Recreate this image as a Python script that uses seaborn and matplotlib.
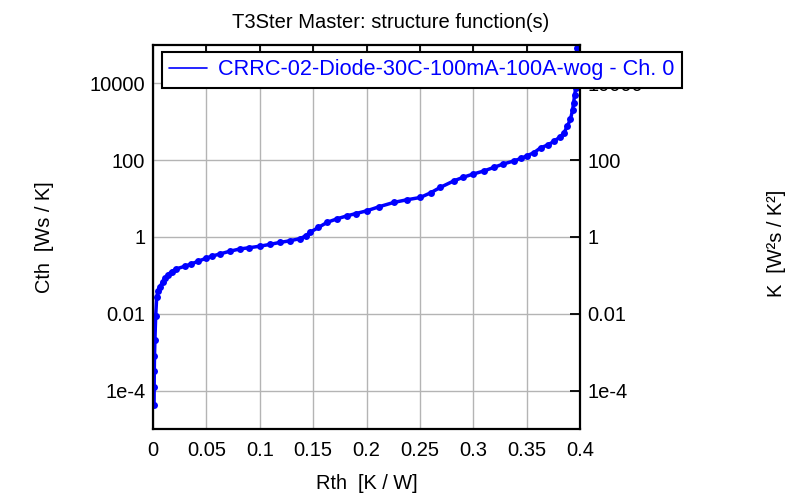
import matplotlib
matplotlib.use("Agg")
import matplotlib.pyplot as plt
import seaborn as sns
import pandas as pd

# Data (Rth in K/W, log10 of Cth in Ws/K)
rth = [0.0010, 0.0011, 0.0012, 0.0014, 0.0018, 0.0025, 0.0035, 0.0050, 0.0066,
       0.0090, 0.0113, 0.0140, 0.0175, 0.0220, 0.0300, 0.0360, 0.0425, 0.0500,
       0.0550, 0.0629, 0.0720, 0.0816, 0.0900, 0.1000, 0.1100, 0.1190, 0.1280,
       0.1380, 0.1430, 0.1470, 0.1550, 0.1630, 0.1720, 0.1816, 0.1900, 0.2000,
       0.2120, 0.2255, 0.2380, 0.2505, 0.2600, 0.2690, 0.2817, 0.2900, 0.3000,
       0.3100, 0.3190, 0.3280, 0.3380, 0.3450, 0.3500, 0.3570, 0.3630, 0.3700,
       0.3755, 0.3810, 0.3850, 0.3880, 0.3910, 0.3930, 0.3940, 0.3950, 0.3960,
       0.3965, 0.3970]
log_cth = [-4.37, -3.90, -3.50, -3.10, -2.68, -2.07, -1.55, -1.40, -1.29,
           -1.17, -1.07, -0.98, -0.90, -0.83, -0.76, -0.70, -0.63, -0.55,
           -0.50, -0.44, -0.37, -0.31, -0.28, -0.24, -0.19, -0.14, -0.10,
           -0.04, 0.03, 0.12, 0.25, 0.38, 0.47, 0.55, 0.61, 0.68,
           0.79, 0.90, 0.97, 1.03, 1.15, 1.29, 1.46, 1.55, 1.64,
           1.72, 1.81, 1.90, 1.98, 2.05, 2.11, 2.20, 2.32, 2.40,
           2.49, 2.60, 2.71, 2.88, 3.06, 3.30, 3.49, 3.70, 3.88,
           4.40, 4.93]

series_name = "CRRC-02-Diode-30C-100mA-100A-wog - Ch. 0"
x_ticks = [0, 0.05, 0.1, 0.15, 0.2, 0.25, 0.3, 0.35, 0.4]
x_tick_labels = ["0", "0.05", "0.1", "0.15", "0.2", "0.25", "0.3", "0.35", "0.4"]
y_ticks = [1e-4, 1e-2, 1, 1e2, 1e4]
y_tick_labels = ["1e-4", "0.01", "1", "100", "10000"]

df = pd.DataFrame({"Rth": rth, "Cth": [10 ** v for v in log_cth],
                   "series": series_name})

sns.set_theme(style="white")
plt.rcParams['font.family'] = ['Liberation Sans', 'DejaVu Sans']
plt.rcParams['text.color'] = 'black'
plt.rcParams['axes.labelcolor'] = 'black'

fig = plt.figure(figsize=(7.87, 4.93), dpi=100)
ax = fig.add_axes([153/787, 64/493, 427/787, 384/493])

sns.lineplot(data=df, x="Rth", y="Cth", hue="series", palette=["#0000ff"],
             marker="o", markersize=5, markeredgewidth=0, linewidth=2.5,
             ax=ax, legend=True, sort=False)

ax.set_yscale("log")
ax.set_xlim(0, 0.4)
ax.set_ylim(1e-5, 1e5)
ax.set_xticks(x_ticks)
ax.set_xticklabels(x_tick_labels)
ax.set_yticks(y_ticks)
ax.set_yticklabels(y_tick_labels)
ax.yaxis.set_minor_locator(matplotlib.ticker.NullLocator())
ax.grid(True, color="#b4b4b4", linewidth=1)
ax.set_axisbelow(True)
for s in ax.spines.values():
    s.set_color("black")
    s.set_linewidth(1.6)
ax.tick_params(axis="both", which="major", direction="in", length=7, width=1.3,
               top=True, right=True, labelright=True, labelsize=14.5,
               colors="black")
ax.tick_params(axis="x", pad=9)
ax.tick_params(axis="y", pad=5.5)

ax.set_xlabel("Rth  [K / W]", fontsize=14.4, labelpad=10)
ax.set_ylabel("Cth  [Ws / K]", fontsize=14.4, labelpad=26)

fig.text(391/787, 1 - 22/493, "T3Ster Master: structure function(s)",
         fontsize=14.5, ha="center", va="center")
fig.text(776/787, 1 - 243/493, "K  [W²s / K²]", rotation=90, fontsize=14.4,
         ha="center", va="center")

leg = ax.legend(loc="upper left", bbox_to_anchor=(0.0204, 0.981),
                borderaxespad=0, fontsize=15.6, frameon=True, fancybox=False,
                framealpha=1, edgecolor="black", handlelength=1.77,
                borderpad=0.33, handletextpad=0.5, labelcolor="#0000ff")
leg.get_frame().set_linewidth(1.5)
for h in leg.get_lines():
    h.set_marker("")
    h.set_linewidth(1.2)

fig.savefig("out.png", dpi=100)
